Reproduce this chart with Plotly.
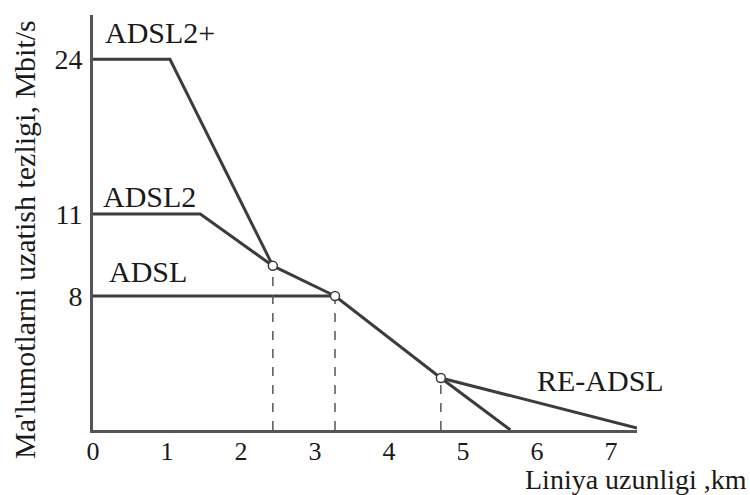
import plotly.graph_objects as go

# Schematic chart: x in km, y in drawing units (the original y scale is not linear)
x_ticks = [0, 1, 2, 3, 4, 5, 6, 7]
x_tick_labels = ["0", "1", "2", "3", "4", "5", "6", "7"]
y_tick_pos = [7.88, 12.7, 21.8]
y_tick_labels = ["8", "11", "24"]

adsl2p_x = [0, 1.04, 2.43]
adsl2p_y = [21.8, 21.8, 9.65]
adsl2_x = [0, 1.45, 2.43, 3.27]
adsl2_y = [12.7, 12.7, 9.65, 7.88]
adsl_x = [0, 3.27, 4.70, 5.64]
adsl_y = [7.88, 7.88, 3.06, 0]
readsl_x = [4.70, 7.35]
readsl_y = [3.06, 0.12]

cross_x = [2.43, 3.27, 4.70]
cross_y = [9.65, 7.88, 3.06]

labels = ["ADSL2+", "ADSL2", "ADSL", "RE-ADSL"]
label_x = [0.905, 0.77, 0.74, 6.86]
label_y = [23.35, 13.75, 9.3, 2.94]

LINE = "#3c3c3c"
FONT = "Liberation Serif"

fig = go.Figure()
for xs, ys in [(adsl2p_x, adsl2p_y), (adsl2_x, adsl2_y), (adsl_x, adsl_y), (readsl_x, readsl_y)]:
    fig.add_trace(go.Scatter(x=xs, y=ys, mode="lines",
                             line=dict(color=LINE, width=3), showlegend=False,
                             hoverinfo="skip", cliponaxis=False))
for cx, cy in zip(cross_x, cross_y):
    fig.add_trace(go.Scatter(x=[cx, cx], y=[0, cy], mode="lines",
                             line=dict(color="#555555", width=1.5, dash="dash"),
                             showlegend=False, hoverinfo="skip"))
fig.add_trace(go.Scatter(x=cross_x, y=cross_y, mode="markers",
                         marker=dict(symbol="circle", size=9, color="white",
                                     line=dict(color=LINE, width=1.5)),
                         showlegend=False, hoverinfo="skip"))

for t, lx, ly in zip(labels, label_x, label_y):
    fig.add_annotation(x=lx, y=ly, text=t, showarrow=False,
                       font=dict(family=FONT, size=30, color="#1a1a1a"))

fig.add_annotation(xref="paper", yref="paper", x=-0.125, y=0.458,
                   xanchor="center", yanchor="middle",
                   text="Ma'lumotlarni uzatish tezligi, Mbit/s", textangle=-90,
                   showarrow=False, font=dict(family=FONT, size=30, color="#1a1a1a"))
fig.add_annotation(xref="paper", yref="paper", x=0.998, y=-0.12,
                   xanchor="center", yanchor="middle",
                   text="Liniya uzunligi ,km", showarrow=False,
                   font=dict(family=FONT, size=28, color="#1a1a1a"))

fig.update_layout(
    width=750, height=495,
    margin=dict(l=93, r=113, t=15, b=65),
    paper_bgcolor="white", plot_bgcolor="white",
    xaxis=dict(range=[0, 7.35], tickvals=x_ticks, ticktext=x_tick_labels,
               showgrid=False, zeroline=False, showline=True,
               linecolor="#555555", linewidth=3, ticks="",
               ticklabelstandoff=-4,
               tickfont=dict(family=FONT, size=26, color="#1a1a1a")),
    yaxis=dict(range=[0, 24.4], tickvals=y_tick_pos, ticktext=y_tick_labels,
               showgrid=False, zeroline=False, showline=True,
               linecolor="#555555", linewidth=3, ticks="",
               ticklabelstandoff=2,
               tickfont=dict(family=FONT, size=28, color="#1a1a1a")),
)

fig.write_html("out.html", config={"displayModeBar": False},
               post_script="document.body.style.margin='0';")
